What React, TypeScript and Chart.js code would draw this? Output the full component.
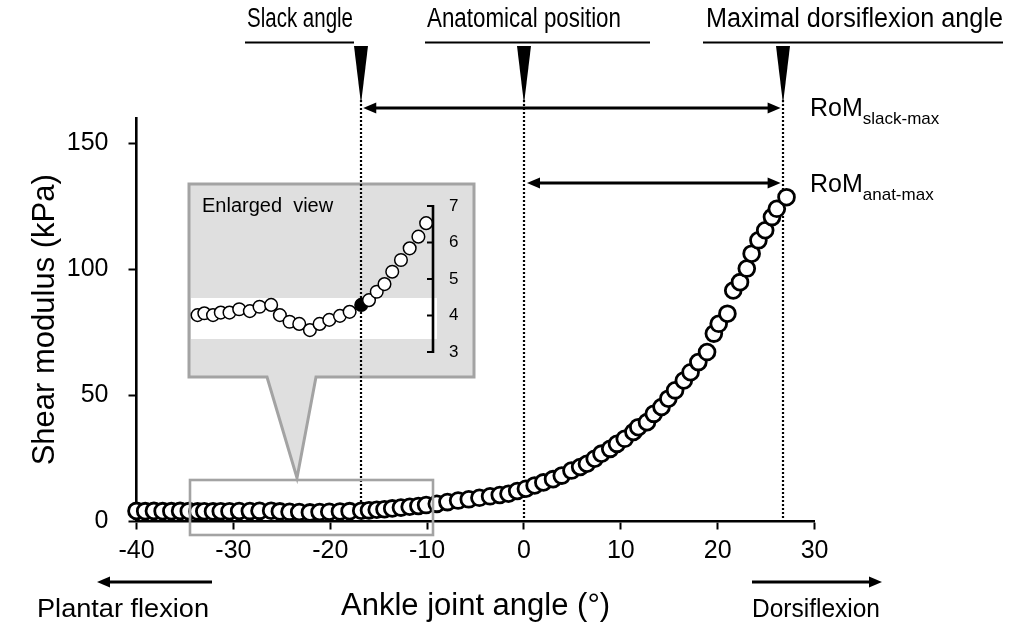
import React, { useEffect, useRef } from 'react';
import { Chart, registerables } from 'chart.js';

Chart.register(...registerables);

// ---- data ----
const ANGLES = [
  -40, -39.1, -38.2, -37.3, -36.4, -35.5, -34.6,
  -33.7, -33.0, -32.1, -31.3, -30.4, -29.4, -28.3, -27.3, -26.1, -25.2, -24.2, -23.2, -22.1,
  -21.1, -20.1, -19.0, -18.0, -16.8, -16.0, -15.2, -14.4, -13.6, -12.7, -11.8, -10.9, -10.1,
  -9.0, -7.9, -6.8, -5.7, -4.6, -3.5, -2.5, -1.6, -0.7, 0.2,
  1.1, 2.0, 3.0, 3.9, 4.9, 5.8, 6.5, 7.3, 8.0, 8.9,
  9.6, 10.4, 11.3, 11.8, 12.7, 13.4, 14.2, 14.9, 15.6, 16.5,
  17.2, 18.0, 18.9, 19.6, 20.1, 21.0, 21.6, 22.3, 23.0, 23.5,
  24.2, 24.9, 25.6, 26.1, 27.1,
];
const SHEAR = [
  4.2, 4.1, 4.2, 4.1, 4.1, 4.2, 4.1,
  4.01, 4.06, 4.01, 4.08, 4.08, 4.17, 4.12, 4.24, 4.29, 4.01, 3.83, 3.77, 3.6,
  3.77, 3.88, 3.99, 4.1, 4.29, 4.42, 4.65, 4.86, 5.2, 5.52, 5.84, 6.16, 6.53,
  7.0, 7.7, 8.3, 8.8, 9.4, 10.0, 10.5, 11.0, 12.1, 13.0,
  14.3, 15.5, 16.8, 18.2, 20.2, 21.6, 22.9, 24.9, 26.9, 28.8,
  30.8, 32.8, 35.5, 37.4, 39.4, 42.7, 45.4, 48.7, 52.0, 55.9,
  59.2, 63.2, 67.2, 74.5, 78.4, 82.4, 91.6, 94.9, 100.3, 106.2,
  111.5, 115.5, 120.7, 124.0, 128.6,
];
const X_TICKS = [-40, -30, -20, -10, 0, 10, 20, 30];
const Y_TICKS = [0, 50, 100, 150];
const INSET_TICKS = [3, 4, 5, 6, 7];
const INSET_RANGE = [-34, -10];
const SLACK_ANGLE = -16.8;
const ANAT_ANGLE = 0;
const MAX_ANGLE = 26.7;

const FONT = '"Liberation Sans", Arial, Helvetica, sans-serif';

function drawText(
  ctx: CanvasRenderingContext2D,
  str: string,
  x: number,
  y: number,
  size: number,
  align: CanvasTextAlign,
  width?: number
) {
  ctx.save();
  ctx.font = `${size}px ${FONT}`;
  ctx.textBaseline = 'middle';
  ctx.fillStyle = '#000';
  ctx.textAlign = align;
  const measured = ctx.measureText(str).width;
  if (width) {
    ctx.translate(x, y);
    ctx.scale(width / measured, 1);
    ctx.fillText(str, 0, 0);
  } else {
    ctx.fillText(str, x, y);
  }
  ctx.restore();
  return width ?? measured;
}

function line(ctx: CanvasRenderingContext2D, x1: number, y1: number, x2: number, y2: number, w: number, color = '#000') {
  ctx.save();
  ctx.strokeStyle = color;
  ctx.lineWidth = w;
  ctx.beginPath();
  ctx.moveTo(x1, y1);
  ctx.lineTo(x2, y2);
  ctx.stroke();
  ctx.restore();
}

function arrowHead(ctx: CanvasRenderingContext2D, x: number, y: number, dir: number) {
  ctx.save();
  ctx.fillStyle = '#000';
  ctx.beginPath();
  ctx.moveTo(x, y);
  ctx.lineTo(x - dir * 13, y - 5.5);
  ctx.lineTo(x - dir * 13, y + 5.5);
  ctx.closePath();
  ctx.fill();
  ctx.restore();
}

function hArrow(ctx: CanvasRenderingContext2D, x1: number, x2: number, y: number, left: boolean, right: boolean) {
  line(ctx, x1 + (left ? 8 : 0), y, x2 - (right ? 8 : 0), y, 3);
  if (left) arrowHead(ctx, x1, y, -1);
  if (right) arrowHead(ctx, x2, y, 1);
}

const annotationPlugin = {
  id: 'annotations',
  beforeDatasetsDraw(chart: any) {
    const ctx: CanvasRenderingContext2D = chart.ctx;
    const xs = chart.scales.x;
    const bottom = chart.chartArea.bottom;
    // callout box with pointer
    ctx.save();
    ctx.fillStyle = '#dfdfdf';
    ctx.strokeStyle = '#a3a3a3';
    ctx.lineWidth = 3;
    ctx.lineJoin = 'miter';
    ctx.beginPath();
    ctx.moveTo(267, 377);
    ctx.lineTo(189, 377);
    ctx.lineTo(189, 184);
    ctx.lineTo(474, 184);
    ctx.lineTo(474, 377);
    ctx.lineTo(316, 377);
    ctx.lineTo(297, 478);
    ctx.closePath();
    ctx.fill();
    ctx.stroke();
    ctx.restore();
    // white band
    ctx.save();
    ctx.fillStyle = '#ffffff';
    ctx.fillRect(191, 298, 246, 41);
    ctx.restore();
    // dotted vertical lines
    ctx.save();
    ctx.strokeStyle = '#000';
    ctx.lineWidth = 2.2;
    ctx.setLineDash([2, 2]);
    for (const a of [SLACK_ANGLE, ANAT_ANGLE, MAX_ANGLE]) {
      const px = Math.round(xs.getPixelForValue(a));
      ctx.beginPath();
      ctx.moveTo(px, 100);
      ctx.lineTo(px, bottom);
      ctx.stroke();
    }
    ctx.restore();
  },
  afterDatasetsDraw(chart: any) {
    const ctx: CanvasRenderingContext2D = chart.ctx;
    const xs = chart.scales.x;
    const y2 = chart.scales.y2;
    // highlight rectangle on the axis
    ctx.save();
    ctx.strokeStyle = '#a3a3a3';
    ctx.lineWidth = 2.6;
    ctx.strokeRect(190, 480, 243, 55);
    ctx.restore();
    // inset axis
    const ax = 433;
    const yTop = y2.getPixelForValue(INSET_TICKS[INSET_TICKS.length - 1]);
    const yBot = y2.getPixelForValue(INSET_TICKS[0]);
    line(ctx, ax, yTop - 1, ax, yBot + 1, 2.6);
    for (const t of INSET_TICKS) {
      const py = y2.getPixelForValue(t);
      line(ctx, ax - 6, py, ax, py, 2);
      drawText(ctx, String(t), 449, py, 17, 'left');
    }
    drawText(ctx, 'Enlarged  view', 202, 206, 20, 'left');

    // top markers
    const markers = [
      { label: 'Slack angle', angle: SLACK_ANGLE, tx: 247, tw: 106, u1: 245, u2: 354 },
      { label: 'Anatomical position', angle: ANAT_ANGLE, tx: 427, tw: 194, u1: 425, u2: 650 },
      { label: 'Maximal dorsiflexion angle', angle: MAX_ANGLE, tx: 706, tw: 297, u1: 703, u2: 1003 },
    ];
    for (const m of markers) {
      drawText(ctx, m.label, m.tx, 20, 27, 'left', m.tw);
      line(ctx, m.u1, 42.5, m.u2, 42.5, 2.2);
      const px = Math.round(xs.getPixelForValue(m.angle));
      ctx.save();
      ctx.fillStyle = '#000';
      ctx.beginPath();
      ctx.moveTo(px - 7, 46);
      ctx.lineTo(px + 7, 46);
      ctx.lineTo(px, 104);
      ctx.closePath();
      ctx.fill();
      ctx.restore();
    }

    // RoM arrows
    const pSlack = xs.getPixelForValue(SLACK_ANGLE);
    const pAnat = xs.getPixelForValue(ANAT_ANGLE);
    const pMax = xs.getPixelForValue(MAX_ANGLE);
    hArrow(ctx, pSlack + 2, pMax - 2, 108, true, true);
    hArrow(ctx, pAnat + 3, pMax - 2, 183, true, true);
    const w1 = drawText(ctx, 'RoM', 810, 109, 25, 'left');
    drawText(ctx, 'slack-max', 810 + w1, 119, 17, 'left');
    const w2 = drawText(ctx, 'RoM', 810, 185, 25, 'left');
    drawText(ctx, 'anat-max', 810 + w2, 195, 17, 'left');

    // bottom direction arrows
    hArrow(ctx, 97, 212, 582, true, false);
    hArrow(ctx, 752, 882, 582, false, true);
    drawText(ctx, 'Plantar flexion', 37, 610, 25, 'left', 172);
    drawText(ctx, 'Dorsiflexion', 752, 610, 25, 'left', 128);
  },
};

export default function App() {
  const ref = useRef<HTMLCanvasElement | null>(null);
  useEffect(() => {
    if (!ref.current) return;
    const points = ANGLES.map((a, i) => ({ x: a, y: SHEAR[i] }));
    const insetPoints = points.filter((p) => p.x >= INSET_RANGE[0] && p.x <= INSET_RANGE[1]);
    const insetFill = insetPoints.map((p) => (p.x === SLACK_ANGLE ? '#000' : '#fff'));

    const chart = new Chart(ref.current, {
      type: 'scatter',
      data: {
        datasets: [
          {
            data: points,
            yAxisID: 'y',
            pointRadius: 7.9,
            pointBorderWidth: 2.8,
            pointBackgroundColor: '#fff',
            pointBorderColor: '#000',
            clip: false,
          } as any,
          {
            data: insetPoints,
            yAxisID: 'y2',
            pointRadius: 6.3,
            pointBorderWidth: 1.5,
            pointBackgroundColor: insetFill,
            pointBorderColor: '#000',
            clip: false,
          } as any,
        ],
      },
      options: {
        responsive: false,
        animation: false,
        devicePixelRatio: 1,
        events: [],
        layout: { padding: { left: 30, right: 204.4, top: 118, bottom: 6 } },
        plugins: { legend: { display: false }, tooltip: { enabled: false } },
        scales: {
          x: {
            type: 'linear',
            min: -40,
            max: 30,
            position: 'bottom',
            afterFit: (s: any) => {
              s.height = 100.5;
            },
            afterBuildTicks: (s: any) => {
              s.ticks = X_TICKS.map((v) => ({ value: v }));
            },
            grid: { drawOnChartArea: false, drawTicks: true, tickLength: 8, tickWidth: 2, tickColor: '#000' },
            border: { display: true, color: '#000', width: 2.6 },
            ticks: { color: '#000', font: { family: FONT, size: 25 }, padding: 7, maxRotation: 0 },
            title: {
              display: true,
              text: 'Ankle joint angle (°)',
              color: '#000',
              font: { family: FONT, size: 31, lineHeight: 1 },
              padding: 0,
            },
          },
          y: {
            type: 'linear',
            min: 0,
            max: 160,
            position: 'left',
            afterFit: (s: any) => {
              s.width = 106.5;
            },
            afterBuildTicks: (s: any) => {
              s.ticks = Y_TICKS.map((v) => ({ value: v }));
            },
            grid: { drawOnChartArea: false, drawTicks: true, tickLength: 8, tickWidth: 2, tickColor: '#000' },
            border: { display: true, color: '#000', width: 2.6 },
            ticks: { color: '#000', font: { family: FONT, size: 25 }, padding: 20 },
            title: {
              display: true,
              text: 'Shear modulus (kPa)',
              color: '#000',
              font: { family: FONT, size: 31, lineHeight: 1 },
              padding: 0,
            },
          },
          y2: {
            type: 'linear',
            display: false,
            min: -1.644,
            max: 9.411,
          },
        },
      } as any,
      plugins: [annotationPlugin],
    });
    return () => chart.destroy();
  }, []);

  return (
    <div style={{ position: 'fixed', left: 0, top: 0, width: 1019, height: 628, background: '#fff' }}>
      <canvas ref={ref} width={1019} height={628} style={{ display: 'block' }} />
    </div>
  );
}
